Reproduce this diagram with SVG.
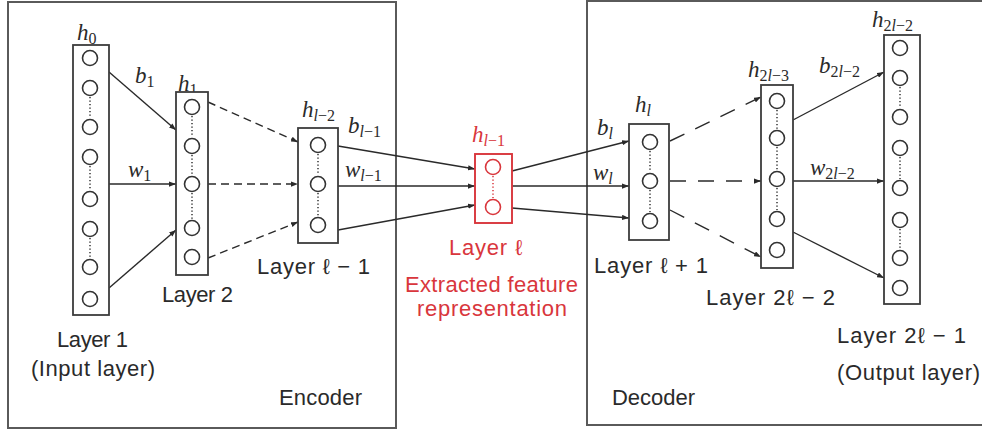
<svg xmlns="http://www.w3.org/2000/svg" width="982" height="431" viewBox="0 0 982 431">
<style>
.frame{fill:none;stroke:#5a5a5a;stroke-width:2}
.col{fill:#fff;stroke:#3c3c3c;stroke-width:1.8}
.colr{fill:#fff;stroke:#d9363c;stroke-width:1.9}
.n{fill:#fff;stroke:#333;stroke-width:1.6}
.nr{fill:#fff;stroke:#d9363c;stroke-width:1.6}
.dots{stroke:#333;stroke-width:1.5;stroke-dasharray:1.3 2.2;fill:none}
.dotsr{stroke:#d9363c;stroke-width:1.5;stroke-dasharray:1.3 2.2;fill:none}
.c{stroke:#2a2a2a;stroke-width:1.4;fill:none}
.d1{stroke-dasharray:8 5}
.d2{stroke-dasharray:16 12}
.t{font-family:"Liberation Sans",Arial,sans-serif;font-size:22px;fill:#2a2a2a}
.tr{font-family:"Liberation Sans",Arial,sans-serif;font-size:22px;fill:#d9363c}
.m{font-family:"Liberation Serif","Times New Roman",serif;font-style:italic;font-size:23px;fill:#2a2a2a}
.mr{font-family:"Liberation Serif","Times New Roman",serif;font-style:italic;font-size:23px;fill:#d9363c}
.s{font-size:16px;font-style:normal}
.i{font-style:italic}
</style>
<defs>
<marker id="ah" viewBox="0 0 8 6" refX="8" refY="3" markerWidth="7" markerHeight="5.5" orient="auto" markerUnits="userSpaceOnUse">
<path d="M0,0 L8,3 L0,6 z" fill="#2a2a2a"/>
</marker>
</defs>
<rect width="982" height="431" fill="#fff"/>

<g id="encoder">
<rect class="frame" x="8" y="2" width="388" height="426"/>
<text class="t" x="279" y="405" textLength="83">Encoder</text>
</g>
<g id="decoder">
<rect class="frame" x="587" y="1" width="420" height="424"/>
<text class="t" x="612" y="405" textLength="83">Decoder</text>
</g>

<g id="connectors">
<line class="c" x1="109" y1="72" x2="176" y2="130" marker-end="url(#ah)"/>
<line class="c" x1="109" y1="184" x2="176" y2="184" marker-end="url(#ah)"/>
<line class="c" x1="109" y1="288" x2="176" y2="230" marker-end="url(#ah)"/>
<line class="c d1" x1="208" y1="102" x2="298" y2="142" marker-end="url(#ah)"/>
<line class="c d1" x1="208" y1="184" x2="298" y2="184" marker-end="url(#ah)"/>
<line class="c d1" x1="208" y1="258" x2="298" y2="222" marker-end="url(#ah)"/>
<line class="c" x1="338" y1="146" x2="475" y2="169" marker-end="url(#ah)"/>
<line class="c" x1="338" y1="186" x2="475" y2="186" marker-end="url(#ah)"/>
<line class="c" x1="338" y1="230" x2="475" y2="205" marker-end="url(#ah)"/>
<line class="c" x1="512" y1="171" x2="629" y2="141" marker-end="url(#ah)"/>
<line class="c" x1="512" y1="186" x2="629" y2="186" marker-end="url(#ah)"/>
<line class="c" x1="512" y1="208" x2="629" y2="218" marker-end="url(#ah)"/>
<line class="c d2" x1="670" y1="141" x2="761" y2="97" marker-end="url(#ah)"/>
<line class="c d2" x1="670" y1="181" x2="761" y2="181" marker-end="url(#ah)"/>
<line class="c d2" x1="670" y1="210" x2="761" y2="257" marker-end="url(#ah)"/>
<line class="c" x1="793" y1="120" x2="884" y2="72" marker-end="url(#ah)"/>
<line class="c" x1="793" y1="181" x2="884" y2="181" marker-end="url(#ah)"/>
<line class="c" x1="793" y1="232" x2="884" y2="278" marker-end="url(#ah)"/>
<text class="m" x="135" y="83">b<tspan class="s" dy="4">1</tspan></text>
<text class="m" x="128" y="177">w<tspan class="s" dy="4">1</tspan></text>
<text class="m" x="348" y="133">b<tspan class="s" dy="4"><tspan class="i">l</tspan>−1</tspan></text>
<text class="m" x="345" y="177">w<tspan class="s" dy="4"><tspan class="i">l</tspan>−1</tspan></text>
<text class="m" x="597" y="135">b<tspan class="s i" dy="4">l</tspan></text>
<text class="m" x="593" y="180">w<tspan class="s i" dy="4">l</tspan></text>
<text class="m" x="819" y="73">b<tspan class="s" dy="4">2<tspan class="i">l</tspan>−2</tspan></text>
<text class="m" x="810" y="175">w<tspan class="s" dy="4">2<tspan class="i">l</tspan>−2</tspan></text>
</g>

<g id="layer1">
<text class="m" x="77" y="40">h<tspan class="s" dy="4">0</tspan></text>
<rect class="col" x="73" y="45" width="36" height="270"/>
<path class="dots" d="M90,97V118M90,166V190M90,238V258"/>
<circle class="n" cx="90" cy="58" r="7.5"/>
<circle class="n" cx="90" cy="88" r="7.5"/>
<circle class="n" cx="90" cy="127" r="7.5"/>
<circle class="n" cx="90" cy="157" r="7.5"/>
<circle class="n" cx="90" cy="199" r="7.5"/>
<circle class="n" cx="90" cy="229" r="7.5"/>
<circle class="n" cx="90" cy="267" r="7.5"/>
<circle class="n" cx="90" cy="299" r="7.5"/>
<text class="t" x="57" y="347" textLength="71">Layer 1</text>
<text class="t" x="31" y="376" textLength="124">(Input layer)</text>
</g>

<g id="layer2">
<text class="m" x="178" y="91">h<tspan class="s" dy="4">1</tspan></text>
<rect class="col" x="176" y="92" width="32" height="183"/>
<path class="dots" d="M192,116V137M192,155V175M192,193V219"/>
<circle class="n" cx="192" cy="107" r="7.5"/>
<circle class="n" cx="192" cy="146" r="7.5"/>
<circle class="n" cx="192" cy="184" r="7.5"/>
<circle class="n" cx="192" cy="228" r="7.5"/>
<circle class="n" cx="192" cy="257" r="7.5"/>
<text class="t" x="162" y="302" textLength="71">Layer 2</text>
</g>

<g id="layer3">
<text class="m" x="302" y="117">h<tspan class="s" dy="4"><tspan class="i">l</tspan>−2</tspan></text>
<rect class="col" x="298" y="128" width="40" height="115"/>
<path class="dots" d="M318,154V175M318,193V216"/>
<circle class="n" cx="318" cy="145" r="7.5"/>
<circle class="n" cx="318" cy="184" r="7.5"/>
<circle class="n" cx="318" cy="225" r="7.5"/>
<text class="t" x="257" y="274" textLength="113">Layer ℓ − 1</text>
</g>

<g id="layerL">
<text class="mr" x="472" y="142">h<tspan class="s" dy="4"><tspan class="i">l</tspan>−1</tspan></text>
<rect class="colr" x="475" y="154" width="37" height="69"/>
<path class="dotsr" d="M493,176V198"/>
<circle class="nr" cx="493" cy="167" r="7.5"/>
<circle class="nr" cx="493" cy="207" r="7.5"/>
<text class="tr" x="449" y="255" textLength="73">Layer ℓ</text>
<text class="tr" x="405" y="292" textLength="173">Extracted feature</text>
<text class="tr" x="417" y="316" textLength="150">representation</text>
</g>

<g id="layerL1">
<text class="m" x="635" y="112">h<tspan class="s i" dy="4">l</tspan></text>
<rect class="col" x="629" y="124" width="40" height="116"/>
<path class="dots" d="M650,151V172M650,190V212"/>
<circle class="n" cx="650" cy="142" r="7.5"/>
<circle class="n" cx="650" cy="181" r="7.5"/>
<circle class="n" cx="650" cy="221" r="7.5"/>
<text class="t" x="594" y="273" textLength="114">Layer ℓ + 1</text>
</g>

<g id="layer2L2">
<text class="m" x="748" y="77">h<tspan class="s" dy="4">2<tspan class="i">l</tspan>−3</tspan></text>
<rect class="col" x="761" y="85" width="32" height="183"/>
<path class="dots" d="M777,110V129M777,147V170M777,188V210"/>
<circle class="n" cx="777" cy="101" r="7.5"/>
<circle class="n" cx="777" cy="138" r="7.5"/>
<circle class="n" cx="777" cy="179" r="7.5"/>
<circle class="n" cx="777" cy="219" r="7.5"/>
<circle class="n" cx="777" cy="250" r="7.5"/>
<text class="t" x="706" y="305" textLength="129">Layer 2ℓ − 2</text>
</g>

<g id="layer2L1">
<text class="m" x="872" y="27">h<tspan class="s" dy="4">2<tspan class="i">l</tspan>−2</tspan></text>
<rect class="col" x="884" y="35" width="36" height="269"/>
<path class="dots" d="M900,87V108M900,157V179M900,229V249"/>
<circle class="n" cx="900" cy="48" r="7.5"/>
<circle class="n" cx="900" cy="78" r="7.5"/>
<circle class="n" cx="900" cy="117" r="7.5"/>
<circle class="n" cx="900" cy="148" r="7.5"/>
<circle class="n" cx="900" cy="188" r="7.5"/>
<circle class="n" cx="900" cy="220" r="7.5"/>
<circle class="n" cx="900" cy="258" r="7.5"/>
<circle class="n" cx="900" cy="288" r="7.5"/>
<text class="t" x="837" y="343" textLength="129">Layer 2ℓ − 1</text>
<text class="t" x="837" y="380" textLength="143">(Output layer)</text>
</g>
</svg>
